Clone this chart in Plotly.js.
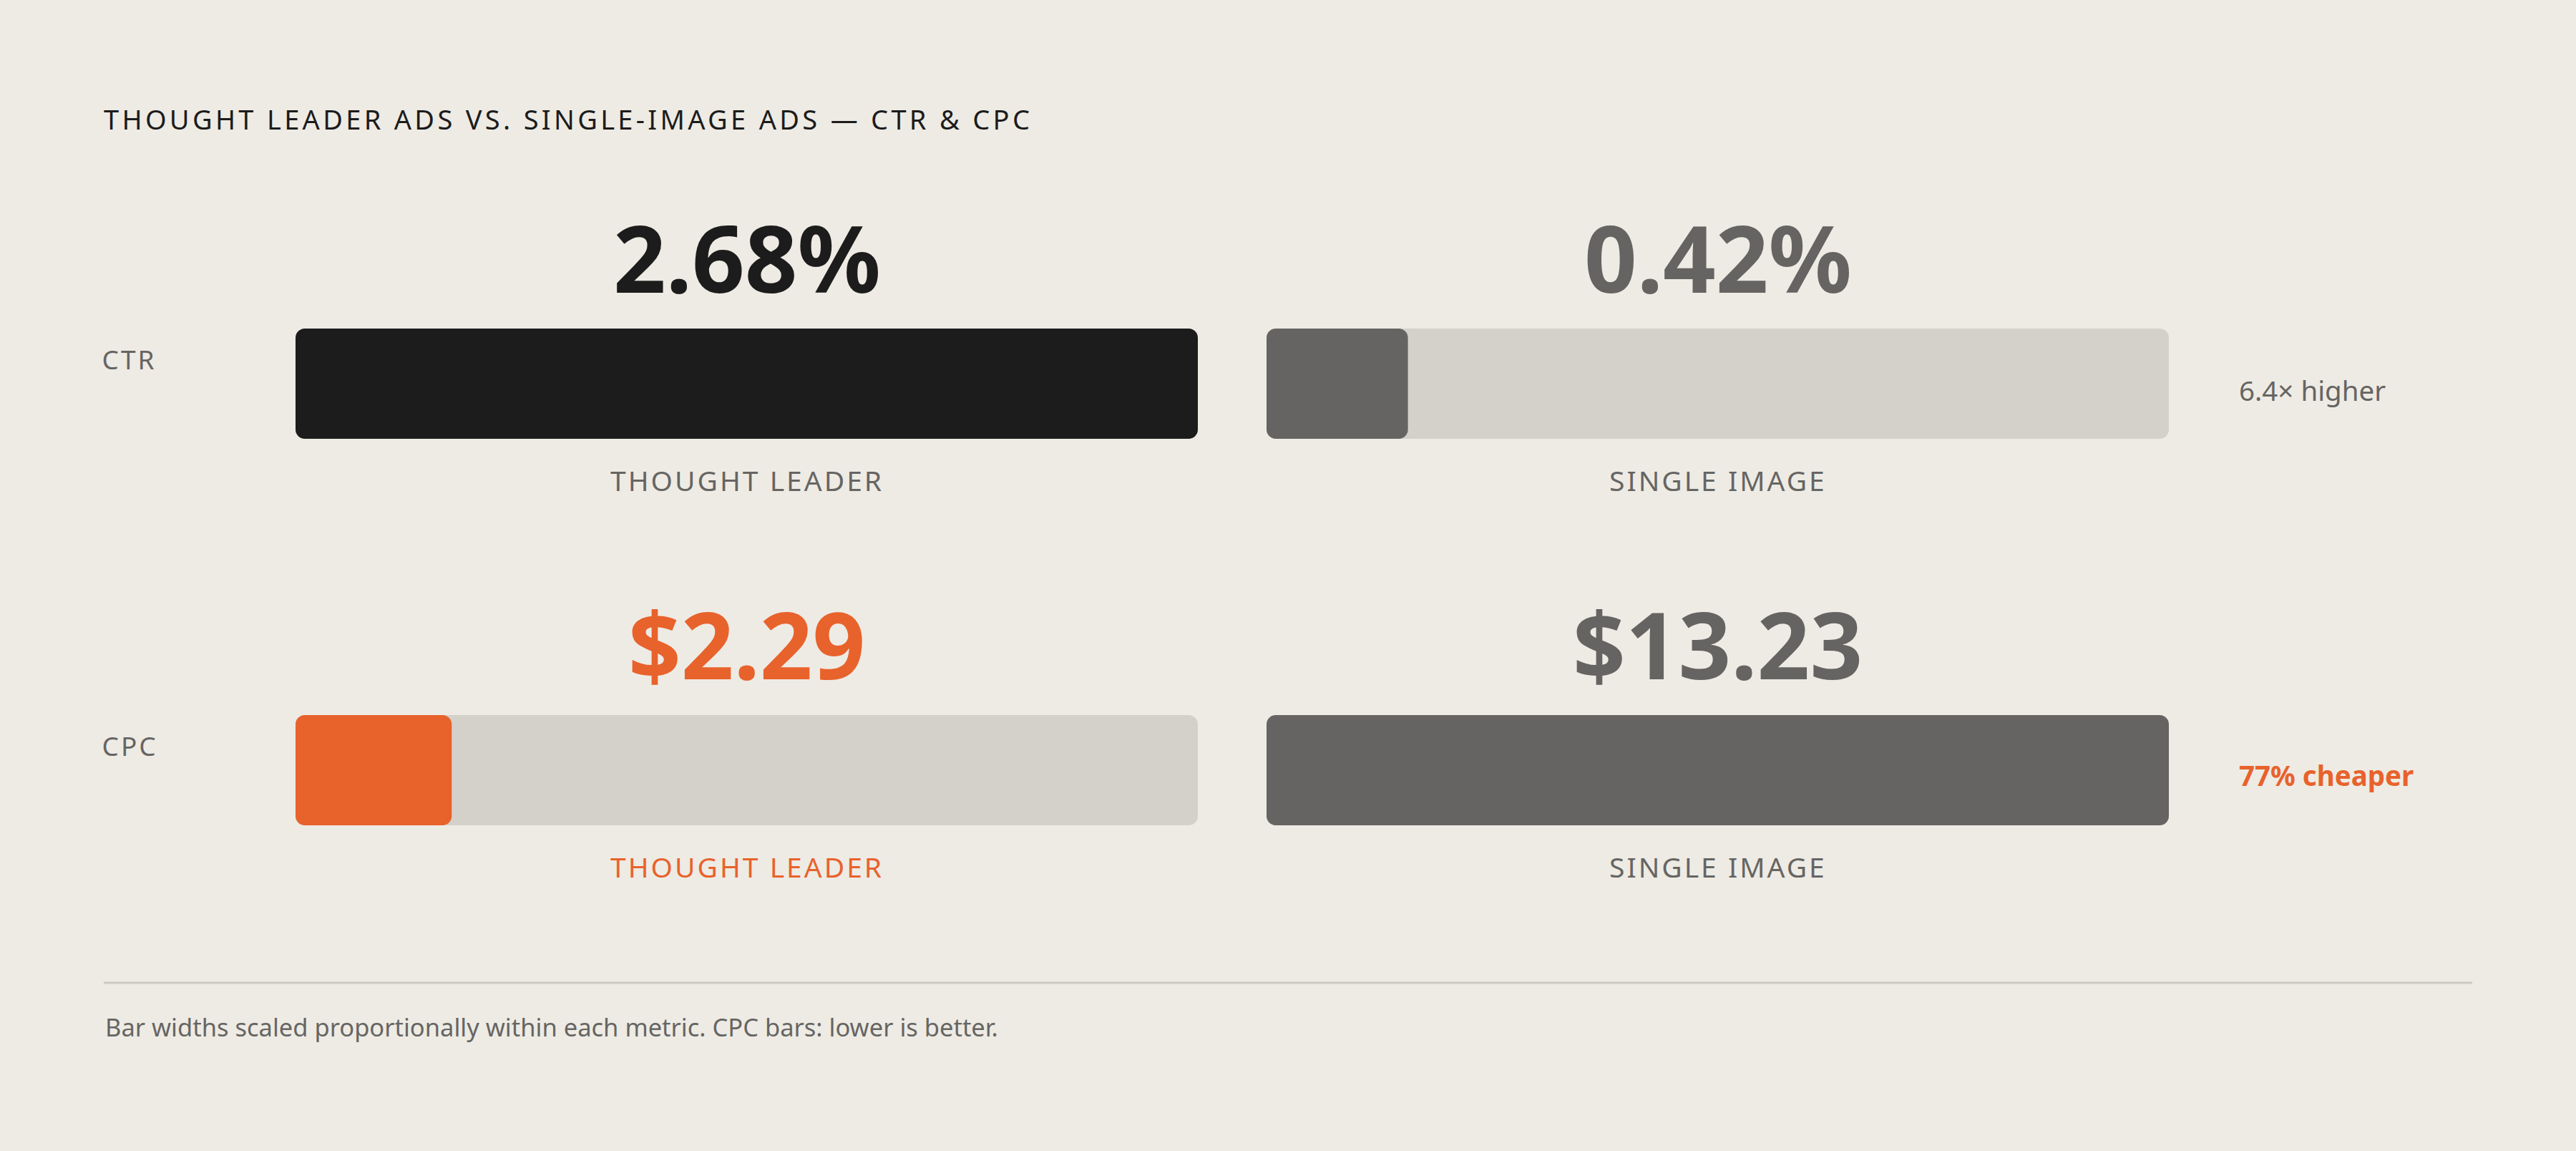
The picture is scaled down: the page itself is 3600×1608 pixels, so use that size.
<!DOCTYPE html>
<html>
<head>
<meta charset="utf-8">
<script src="https://cdn.plot.ly/plotly-3.0.1.min.js"></script>
<style>
  html, body { margin: 0; padding: 0; background: #eeebe4; }
  #chart { width: 3600px; height: 1608px; }
  /* plotly has no letter-spacing option, so the caps labels get it here */
  .gtitle { letter-spacing: 4.3px; }
  .spaced text { letter-spacing: 3px; }
</style>
</head>
<body>
<div id="chart"></div>
<script>
// data
const metrics = ['CTR', 'CPC'];
const adTypes = ['THOUGHT LEADER', 'SINGLE IMAGE'];
const ctrValues = [2.68, 0.42];
const cpcValues = [2.29, 13.23];
const ctrText = ['2.68%', '0.42%'];
const cpcText = ['$2.29', '$13.23'];
const notes = ['6.4× higher', '77% cheaper'];
const footnote = 'Bar widths scaled proportionally within each metric. CPC bars: lower is better.';

const W = 3600, H = 1608;
const FONT = '"Noto Sans", "IBM Plex Sans", sans-serif';

const bg = '#eeebe4';
const track = '#d4d1cb';
const dark = '#1c1c1c';
const grey = '#656462';
const orange = '#e8622c';
const muted = '#666563';
const RADIUS = 13;

// pixel -> paper helpers
function px(x) { return x / W; }
function py(y) { return 1 - y / H; }

// columns (left/right px) and rows (top/bottom px) of the bars
const cols = [[413, 1674], [1770, 3031]];
const rows = [[459, 613], [999, 1153]];

const valueColors = [[dark, grey], [orange, grey]];
const labelColors = [[muted, muted], [orange, muted]];

const allValues = [ctrValues, cpcValues];
const allText = [ctrText, cpcText];

let traces = [];
let layout = {
    width: W,
    height: H,
    margin: { l: 0, r: 0, t: 0, b: 0 },
    paper_bgcolor: bg,
    plot_bgcolor: 'rgba(0,0,0,0)',
    showlegend: false,
    barmode: 'overlay',
    title: {
        text: 'THOUGHT LEADER ADS VS. SINGLE-IMAGE ADS — CTR & CPC',
        x: px(145),
        xanchor: 'left',
        xref: 'paper',
        y: py(168),
        yanchor: 'middle',
        yref: 'paper',
        font: { family: FONT, size: 38, color: dark }
    },
    annotations: [],
    shapes: [{
        type: 'line',
        xref: 'paper', yref: 'paper',
        x0: px(145), x1: px(3455),
        y0: py(1373), y1: py(1373),
        line: { color: '#cbc8c2', width: 3 }
    }]
};

let spacedIdx = [];

function addNote(text, x, y, size, color, opts) {
    let a = Object.assign({
        text: text,
        xref: 'paper', yref: 'paper',
        x: x, y: y,
        xanchor: 'center', yanchor: 'middle',
        showarrow: false,
        font: { family: FONT, size: size, color: color }
    }, opts || {});
    layout.annotations.push(a);
    return layout.annotations.length - 1;
}

// giving the bar an explicit base makes plotly round both of its ends
function roundedBar(value, color, ax) {
    traces.push({
        type: 'bar', orientation: 'h',
        x: [value], base: [0], y: [0], width: 1,
        xaxis: 'x' + ax, yaxis: 'y' + ax,
        marker: { color: color, cornerradius: RADIUS },
        hoverinfo: 'skip'
    });
}

let n = 1;
metrics.forEach((metric, m) => {
    const vals = allValues[m];
    const max = Math.max(...vals);
    adTypes.forEach((type, t) => {
        const ax = n === 1 ? '' : String(n);
        const c = cols[t], r = rows[m];

        layout['xaxis' + ax] = {
            domain: [px(c[0]), px(c[1])],
            range: [0, max],
            visible: false,
            fixedrange: true,
            anchor: 'y' + ax
        };
        layout['yaxis' + ax] = {
            domain: [py(r[1]), py(r[0])],
            range: [-0.5, 0.5],
            visible: false,
            fixedrange: true,
            anchor: 'x' + ax
        };

        // grey track at full scale, then the value on top
        roundedBar(max, track, ax);
        roundedBar(vals[t], valueColors[m][t], ax);

        const mid = px((c[0] + c[1]) / 2);
        // big number
        addNote('<b>' + allText[m][t] + '</b>', mid, py(r[0] - 100), 129, valueColors[m][t]);
        // ad type label
        spacedIdx.push(addNote(type, mid, py(r[1] + 57), 39, labelColors[m][t]));
        n++;
    });

    // metric name on the left
    spacedIdx.push(addNote(metric, px(145), py(rows[m][0] + 42), 37, muted, { xanchor: 'left' }));
});

// notes on the right
addNote(notes[0], px(3127), py(545), 38.5, muted, { xanchor: 'left' });
addNote('<b>' + notes[1] + '</b>', px(3127), py(1083), 38.5, orange, { xanchor: 'left' });

// footnote
addNote(footnote, px(145), py(1434), 34.5, muted, { xanchor: 'left' });

Plotly.newPlot('chart', traces, layout, { displayModeBar: false, staticPlot: true }).then(() => {
    // tag the caps labels so the css letter-spacing applies
    document.querySelectorAll('.annotation').forEach((g) => {
        const i = Number(g.getAttribute('data-index'));
        if (spacedIdx.indexOf(i) >= 0) g.classList.add('spaced');
    });
});
</script>
</body>
</html>
